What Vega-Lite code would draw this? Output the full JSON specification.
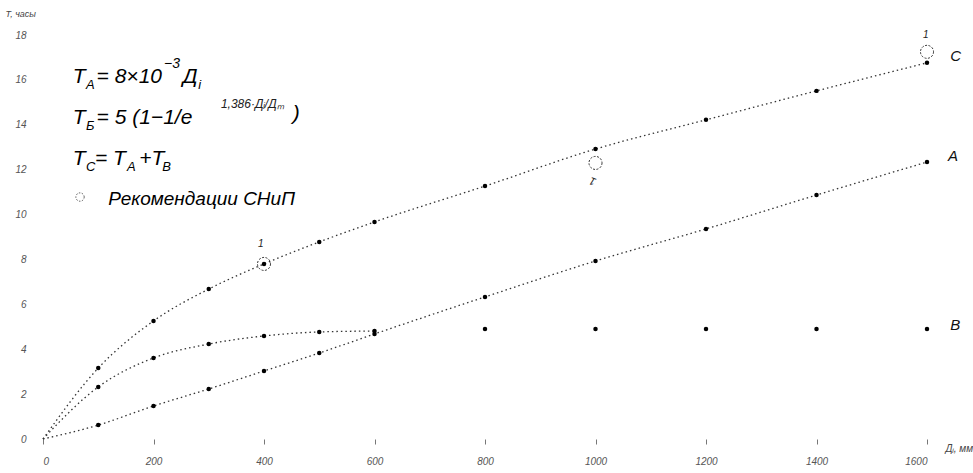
{
  "$schema": "https://vega.github.io/schema/vega-lite/v6.json",
  "width": 884,
  "height": 404,
  "autosize": {"type": "none"},
  "padding": {"left": 43, "top": 35, "right": 46, "bottom": 34},
  "background": "white",
  "config": {"view": {"stroke": null}},
  "datasets": {
    "curves": [
      {"D": 0, "T": 0, "s": "A"}, {"D": 100, "T": 0.62, "s": "A"}, {"D": 200, "T": 1.47, "s": "A"}, {"D": 300, "T": 2.23, "s": "A"}, {"D": 400, "T": 3.03, "s": "A"}, {"D": 500, "T": 3.83, "s": "A"}, {"D": 600, "T": 4.68, "s": "A"}, {"D": 800, "T": 6.33, "s": "A"}, {"D": 1000, "T": 7.93, "s": "A"}, {"D": 1200, "T": 9.36, "s": "A"}, {"D": 1400, "T": 10.87, "s": "A"}, {"D": 1600, "T": 12.34, "s": "A"},
      {"D": 0, "T": 0, "s": "B"}, {"D": 100, "T": 2.32, "s": "B"}, {"D": 200, "T": 3.61, "s": "B"}, {"D": 300, "T": 4.23, "s": "B"}, {"D": 400, "T": 4.59, "s": "B"}, {"D": 500, "T": 4.77, "s": "B"}, {"D": 600, "T": 4.81, "s": "B"}, {"D": 800, "T": 4.9, "s": "B"}, {"D": 1000, "T": 4.9, "s": "B"}, {"D": 1200, "T": 4.9, "s": "B"}, {"D": 1400, "T": 4.9, "s": "B"}, {"D": 1600, "T": 4.9, "s": "B"},
      {"D": 0, "T": 0, "s": "C"}, {"D": 100, "T": 3.16, "s": "C"}, {"D": 200, "T": 5.26, "s": "C"}, {"D": 300, "T": 6.68, "s": "C"}, {"D": 400, "T": 7.8, "s": "C"}, {"D": 500, "T": 8.78, "s": "C"}, {"D": 600, "T": 9.67, "s": "C"}, {"D": 800, "T": 11.27, "s": "C"}, {"D": 1000, "T": 12.92, "s": "C"}, {"D": 1200, "T": 14.22, "s": "C"}, {"D": 1400, "T": 15.51, "s": "C"}, {"D": 1600, "T": 16.76, "s": "C"}
    ],
    "snip": [
      {"D": 400, "T": 7.8}, {"D": 1000, "T": 12.3}, {"D": 1600, "T": 17.25}
    ],
    "snipLegend": [{"D": 67, "T": 10.78}],
    "curveLabels": [
      {"D": 1642, "T": 17.05, "txt": "C"},
      {"D": 1638, "T": 12.6, "txt": "A"},
      {"D": 1642, "T": 5.1, "txt": "B"}
    ],
    "ones": [
      {"D": 394, "T": 8.7, "txt": "1"},
      {"D": 1598, "T": 18.0, "txt": "1"}
    ],
    "onesRot": [
      {"D": 995, "T": 11.5, "txt": "1"}
    ],
    "mainText": [
      {"D": 54, "T": 15.86, "txt": "T"},
      {"D": 97, "T": 15.86, "txt": "= 8×10"},
      {"D": 253, "T": 15.86, "txt": "Д"},
      {"D": 54, "T": 14.04, "txt": "T"},
      {"D": 97, "T": 14.04, "txt": "= 5 (1−1/e"},
      {"D": 452, "T": 14.2, "txt": ")"},
      {"D": 54, "T": 12.21, "txt": "T"},
      {"D": 94, "T": 12.21, "txt": "= T"},
      {"D": 174, "T": 12.21, "txt": "+T"}
    ],
    "legendText": [
      {"D": 118, "T": 10.43, "txt": "Рекомендации СНиП"}
    ],
    "subText": [
      {"D": 78, "T": 15.6, "txt": "A"},
      {"D": 281, "T": 15.6, "txt": "i"},
      {"D": 78, "T": 13.77, "txt": "Б"},
      {"D": 78, "T": 11.94, "txt": "C"},
      {"D": 152, "T": 11.94, "txt": "A"},
      {"D": 216, "T": 11.94, "txt": "B"}
    ],
    "supText": [
      {"D": 219, "T": 16.53, "txt": "−3"}
    ],
    "expText": [
      {"D": 322, "T": 14.75, "txt": "1,386·Дᵢ/Дₘ"}
    ]
  },
  "layer": [
    {
      "data": {"name": "curves"},
      "transform": [{"filter": "datum.s != 'B' || datum.D <= 600"}],
      "mark": {"type": "line", "color": "#333333", "strokeWidth": 1.3, "strokeDash": [1.5, 3], "interpolate": "monotone"},
      "encoding": {
        "x": {
          "field": "D", "type": "quantitative",
          "scale": {"domain": [0, 1600], "nice": false, "zero": true},
          "axis": {
            "values": [0, 200, 400, 600, 800, 1000, 1200, 1400, 1600],
            "format": "d",
            "grid": false, "domain": false, "ticks": true, "tickSize": 5, "tickColor": "#777777", "tickWidth": 1,
            "labelFont": "Liberation Sans", "labelFontStyle": "italic", "labelFontSize": 10, "labelColor": "#555555", "labelPadding": 12,
            "title": "Дᵢ, мм", "titleFont": "Liberation Sans", "titleFontStyle": "italic", "titleFontWeight": "normal", "titleFontSize": 10, "titleColor": "#444444",
            "titleX": 902, "titleY": 9, "titleAlign": "left", "titleBaseline": "middle", "titleAngle": 0
          }
        },
        "y": {
          "field": "T", "type": "quantitative",
          "scale": {"domain": [0, 18], "nice": false},
          "axis": {
            "values": [0, 2, 4, 6, 8, 10, 12, 14, 16, 18],
            "grid": false, "domain": false, "ticks": false,
            "labelFont": "Liberation Sans", "labelFontStyle": "italic", "labelFontSize": 10, "labelColor": "#555555", "labelPadding": 17,
            "title": "Т, часы", "titleFont": "Liberation Sans", "titleFontStyle": "italic", "titleFontWeight": "normal", "titleFontSize": 9, "titleColor": "#444444",
            "titleX": -38, "titleY": -22, "titleAlign": "left", "titleBaseline": "middle", "titleAngle": 0
          }
        },
        "detail": {"field": "s", "type": "nominal"}
      }
    },
    {
      "data": {"name": "curves"},
      "transform": [{"filter": "datum.D > 0"}],
      "mark": {"type": "point", "shape": "circle", "filled": true, "color": "#000000", "size": 20, "opacity": 1},
      "encoding": {
        "x": {"field": "D", "type": "quantitative"},
        "y": {"field": "T", "type": "quantitative"}
      }
    },
    {
      "data": {"name": "snip"},
      "mark": {"type": "point", "shape": "circle", "filled": false, "stroke": "#333333", "strokeWidth": 1, "strokeDash": [2, 1.5], "size": 170, "opacity": 1},
      "encoding": {
        "x": {"field": "D", "type": "quantitative"},
        "y": {"field": "T", "type": "quantitative"}
      }
    },
    {
      "data": {"name": "snipLegend"},
      "mark": {"type": "point", "shape": "circle", "filled": false, "stroke": "#555555", "strokeWidth": 1, "strokeDash": [1.5, 1.5], "size": 70, "opacity": 1},
      "encoding": {
        "x": {"field": "D", "type": "quantitative"},
        "y": {"field": "T", "type": "quantitative"}
      }
    },
    {
      "data": {"name": "curveLabels"},
      "mark": {"type": "text", "font": "Liberation Sans", "fontStyle": "italic", "fontSize": 15, "align": "left", "baseline": "middle", "color": "#111111"},
      "encoding": {
        "x": {"field": "D", "type": "quantitative"},
        "y": {"field": "T", "type": "quantitative"},
        "text": {"field": "txt"}
      }
    },
    {
      "data": {"name": "ones"},
      "mark": {"type": "text", "font": "Liberation Sans", "fontStyle": "italic", "fontSize": 10, "align": "center", "baseline": "middle", "color": "#222222"},
      "encoding": {
        "x": {"field": "D", "type": "quantitative"},
        "y": {"field": "T", "type": "quantitative"},
        "text": {"field": "txt"}
      }
    },
    {
      "data": {"name": "onesRot"},
      "mark": {"type": "text", "font": "Liberation Sans", "fontStyle": "italic", "fontSize": 11, "align": "center", "baseline": "middle", "angle": 200, "color": "#222222"},
      "encoding": {
        "x": {"field": "D", "type": "quantitative"},
        "y": {"field": "T", "type": "quantitative"},
        "text": {"field": "txt"}
      }
    },
    {
      "data": {"name": "mainText"},
      "mark": {"type": "text", "font": "Liberation Sans", "fontStyle": "italic", "fontSize": 21, "align": "left", "baseline": "alphabetic", "color": "#000000"},
      "encoding": {
        "x": {"field": "D", "type": "quantitative"},
        "y": {"field": "T", "type": "quantitative"},
        "text": {"field": "txt"}
      }
    },
    {
      "data": {"name": "legendText"},
      "mark": {"type": "text", "font": "Liberation Sans", "fontStyle": "italic", "fontSize": 19, "align": "left", "baseline": "alphabetic", "color": "#000000"},
      "encoding": {
        "x": {"field": "D", "type": "quantitative"},
        "y": {"field": "T", "type": "quantitative"},
        "text": {"field": "txt"}
      }
    },
    {
      "data": {"name": "subText"},
      "mark": {"type": "text", "font": "Liberation Sans", "fontStyle": "italic", "fontSize": 13, "align": "left", "baseline": "alphabetic", "color": "#000000"},
      "encoding": {
        "x": {"field": "D", "type": "quantitative"},
        "y": {"field": "T", "type": "quantitative"},
        "text": {"field": "txt"}
      }
    },
    {
      "data": {"name": "supText"},
      "mark": {"type": "text", "font": "Liberation Sans", "fontStyle": "italic", "fontSize": 14, "align": "left", "baseline": "alphabetic", "color": "#000000"},
      "encoding": {
        "x": {"field": "D", "type": "quantitative"},
        "y": {"field": "T", "type": "quantitative"},
        "text": {"field": "txt"}
      }
    },
    {
      "data": {"name": "expText"},
      "mark": {"type": "text", "font": "Liberation Sans", "fontStyle": "italic", "fontSize": 12, "align": "left", "baseline": "alphabetic", "color": "#222222"},
      "encoding": {
        "x": {"field": "D", "type": "quantitative"},
        "y": {"field": "T", "type": "quantitative"},
        "text": {"field": "txt"}
      }
    }
  ]
}
